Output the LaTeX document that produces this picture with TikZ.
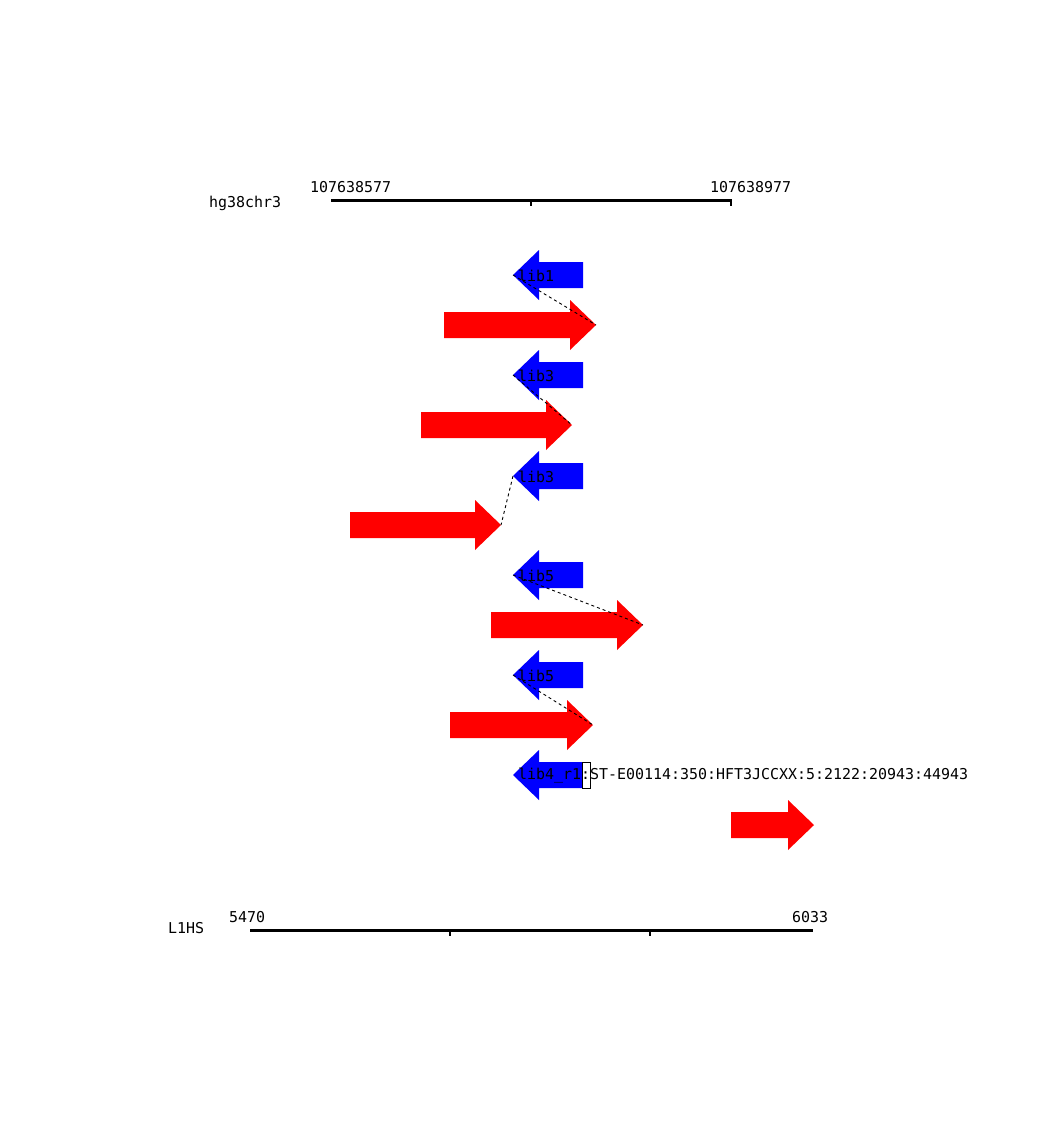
\documentclass[tikz,border=0pt]{standalone}
\usepackage{fontspec}
\setmonofont{DejaVu Sans Mono}
\usetikzlibrary{positioning}

\definecolor{readblue}{RGB}{0,0,255}
\definecolor{readred}{RGB}{255,0,0}

\tikzset{
  monotext/.style={font=\ttfamily\fontsize{14.95}{17}\selectfont, inner sep=0pt},
  axis/.style={line width=3pt},
  axistick/.style={line width=2pt},
  link/.style={black, line width=0.9pt, dash pattern=on 3pt off 3pt},
}

\begin{document}
\begin{tikzpicture}[x=1pt, y=-1pt]
        \useasboundingbox (0,0) rectangle (1063,1130);

        % reference axis
        \draw[axis] (331,200) -- (731,200);
        \draw[axistick] (531,199) -- (531,206);
        \draw[axistick] (731,199) -- (731,206);
        \node[monotext, anchor=west] (refname) at (209,203) {hg38chr3};
        \node[monotext, anchor=west] (refstart) at (310,187) {107638577};
        \node[monotext, anchor=west] (refend) at (710,187) {107638977};

        % forward reads
        \foreach \l/\t/\y/\n in {444/596/325/1, 421/572/425/2, 350/501/525/3, 491/643/625/4, 450/593/725/5, 731/814/825/6} {
          \fill[readred] (\l,\y-13) -- (\t-26,\y-13) -- (\t-26,\y-25) -- (\t,\y)
            -- (\t-26,\y+25) -- (\t-26,\y+13) -- (\l,\y+13) -- cycle;
          \coordinate (r\n) at (\t,\y);
        }

        % reverse reads
        \foreach \y/\n in {275/1, 375/2, 476/3, 575/4, 675/5, 775/6} {
          \fill[readblue] (583,\y-13) -- (539,\y-13) -- (539,\y-25) -- (513,\y)
            -- (539,\y+25) -- (539,\y+13) -- (583,\y+13) -- cycle;
          \coordinate (b\n) at (513,\y);
        }

        \draw[fill=white, line width=1pt] (582,762) rectangle (590,788);

        \node[monotext, anchor=west] (lib1) at (518,276) {lib1};
        \node[monotext, anchor=west] (lib3a) at (518,376) {lib3};
        \node[monotext, anchor=west] (lib3b) at (518,477) {lib3};
        \node[monotext, anchor=west] (lib5a) at (518,576) {lib5};
        \node[monotext, anchor=west] (lib5b) at (518,676) {lib5};
        \node[monotext, anchor=west] (lib4) at (518,776) {lib4\_r1:ST-E00114:350:HFT3JCCXX:5:2122:20943:44943};

        % pair links
        \draw[link] (b1) -- (r1);
        \draw[link] (b2) -- (r2);
        \draw[link] (b3) -- (r3);
        \draw[link] (b4) -- (r4);
        \draw[link] (b5) -- (r5);

        % repeat axis
        \draw[axis] (250,930) -- (813,930);
        \draw[axistick] (450,929) -- (450,936);
        \draw[axistick] (650,929) -- (650,936);
        \node[monotext, anchor=west] (repname) at (168,928) {L1HS};
        \node[monotext, anchor=west] (repstart) at (229,917) {5470};
        \node[monotext, anchor=west] (repend) at (792,917) {6033};
      \end{tikzpicture}
\end{document}
